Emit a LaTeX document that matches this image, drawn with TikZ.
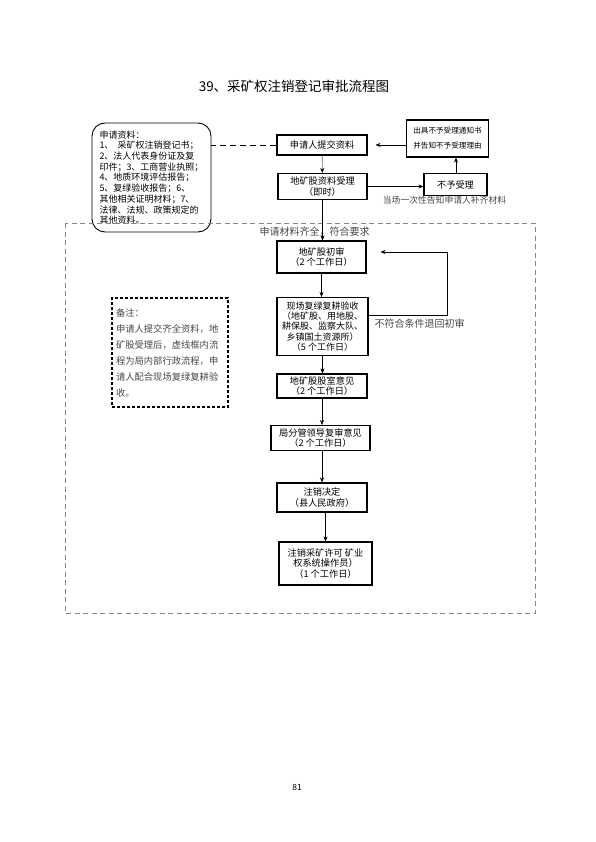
\documentclass[tikz,border=0pt]{standalone}
\usepackage{fontspec}
\setmainfont{Noto Sans CJK SC}
\usepackage{tikz}
\usetikzlibrary{arrows.meta,positioning,calc}
\definecolor{framegray}{RGB}{128,130,165}
\definecolor{textgray}{RGB}{70,70,70}

\begin{document}
\begin{tikzpicture}[
    x=1pt, y=-1pt,
    stage/.style={rectangle, draw, line width=1.1pt, minimum width=#1, align=center, inner sep=1pt, font=\fontsize{9.2}{10.5}\selectfont},
    remark/.style={font=\fontsize{9.3}{11}\selectfont, text=textgray},
    >={Stealth[length=5pt,width=4pt]}
]
    \useasboundingbox (0,0) rectangle (596,842);

    \node[font=\fontsize{13.5}{15}\selectfont] (title) at (294,86) {39、采矿权注销登记审批流程图};

    % Material list and first steps
    \node[draw, line width=0.9pt, rounded corners=13pt, minimum width=119pt, minimum height=109pt, align=left, inner sep=2pt, font=\fontsize{9}{10.7}\selectfont] (docs) at (151.5,177.5)
        {申请资料：\\1、\ \ 采矿权注销登记书；\\2、法人代表身份证及复\\印件；3、工商营业执照；\\4、地质环境评估报告；\\5、复绿验收报告；6、\\其他相关证明材料；7、\\法律、法规、政策规定的\\其他资料。};
    \node[stage=90pt, minimum height=20pt] (submit) at (322,145) {申请人提交资料};
    \node[stage=82pt, minimum height=37pt, font=\fontsize{7.6}{15}\selectfont] (notice) at (447.5,138.5) {出具不予受理通知书\\并告知不予受理理由};
    \node[stage=89pt, minimum height=26pt] (accept) at (322.5,186.5) {地矿股资料受理\\（即时）};
    \node[stage=63pt, minimum height=22pt] (reject) at (455.5,184.5) {不予受理};
    \node[remark, font=\fontsize{8.8}{10}\selectfont] (hint) at (444.5,200) {当场一次性告知申请人补齐材料};

    \draw[dashed, dash pattern=on 6pt off 4pt, line width=0.8pt] (submit.west) -- (submit.west -| docs.east);
    \draw[->, shorten >=8pt] (notice.west |- submit.east) -- (submit.east);
    \draw[->] (accept.east) -- (reject.west |- accept.east);
    \draw[->] (reject.north -| 456,0) -- (notice.south -| 456,0);
    \draw[->] (submit) -- (accept);

    % Internal procedure
    \draw[framegray, dashed, dash pattern=on 5pt off 3.5pt, line width=0.8pt] (65,223) rectangle (535,613);
    \node[remark, font=\fontsize{10}{12}\selectfont] (ok) at (314.5,232) {申请材料齐全，符合要求};

    \node[stage=89pt, minimum height=32pt] (first) at (321.5,257) {地矿股初审\\（2 个工作日）};
    \node[stage=91pt, minimum height=58pt, font=\fontsize{9}{10.4}\selectfont] (site) at (322.5,326.5) {现场复绿复耕验收\\（地矿股、用地股、\\耕保股、监察大队、\\乡镇国土资源所）\\（5 个工作日）};
    \node[stage=90pt, minimum height=24pt] (review) at (322,386) {地矿股股室意见\\（2 个工作日）};
    \node[stage=99pt, minimum height=25pt] (leader) at (320.5,438) {局分管领导复审意见\\（2 个工作日）};
    \node[stage=90pt, minimum height=29pt] (decision) at (322,497.5) {注销决定\\（县人民政府）};
    \node[stage=93pt, minimum height=43pt] (final) at (325.5,563.5) {注销采矿许可 矿业\\权系统操作员）\\（1 个工作日）};

    \node[draw, line width=1.1pt, dashed, dash pattern=on 3pt off 2pt, minimum width=116pt, minimum height=109pt, align=left, text width=108pt, inner sep=4pt, font=\fontsize{9.3}{16}\selectfont, text=textgray] (memo) at (170,352.5)
        {备注：\\申请人提交齐全资料，地\\矿股受理后，虚线框内流\\程为局内部行政流程，申\\请人配合现场复绿复耕验\\收。};

    \draw[->] (accept) -- (accept.south |- first.north);
    \draw[->] (first) -- (first.south |- site.north);
    \draw[->] (site.south) -- (site.south |- review.north);
    \draw[->] (review.south) -- (review.south |- leader.north);
    \draw[->] (review.south |- leader.south) -- (review.south |- decision.north);
    \draw[->] (final.north |- decision.south) -- (final.north);

    \coordinate (turn) at (447,252);
    \draw[->, shorten >=14pt] ([yshift=-18pt]site.north east) -| (turn) -- (turn -| first.east);
    \node[remark, anchor=west, font=\fontsize{10}{12}\selectfont] (back) at (371,324) {不符合条件退回初审};

    \node[font=\fontsize{8.5}{10}\selectfont] (page) at (297,787) {81};
\end{tikzpicture}
\end{document}
